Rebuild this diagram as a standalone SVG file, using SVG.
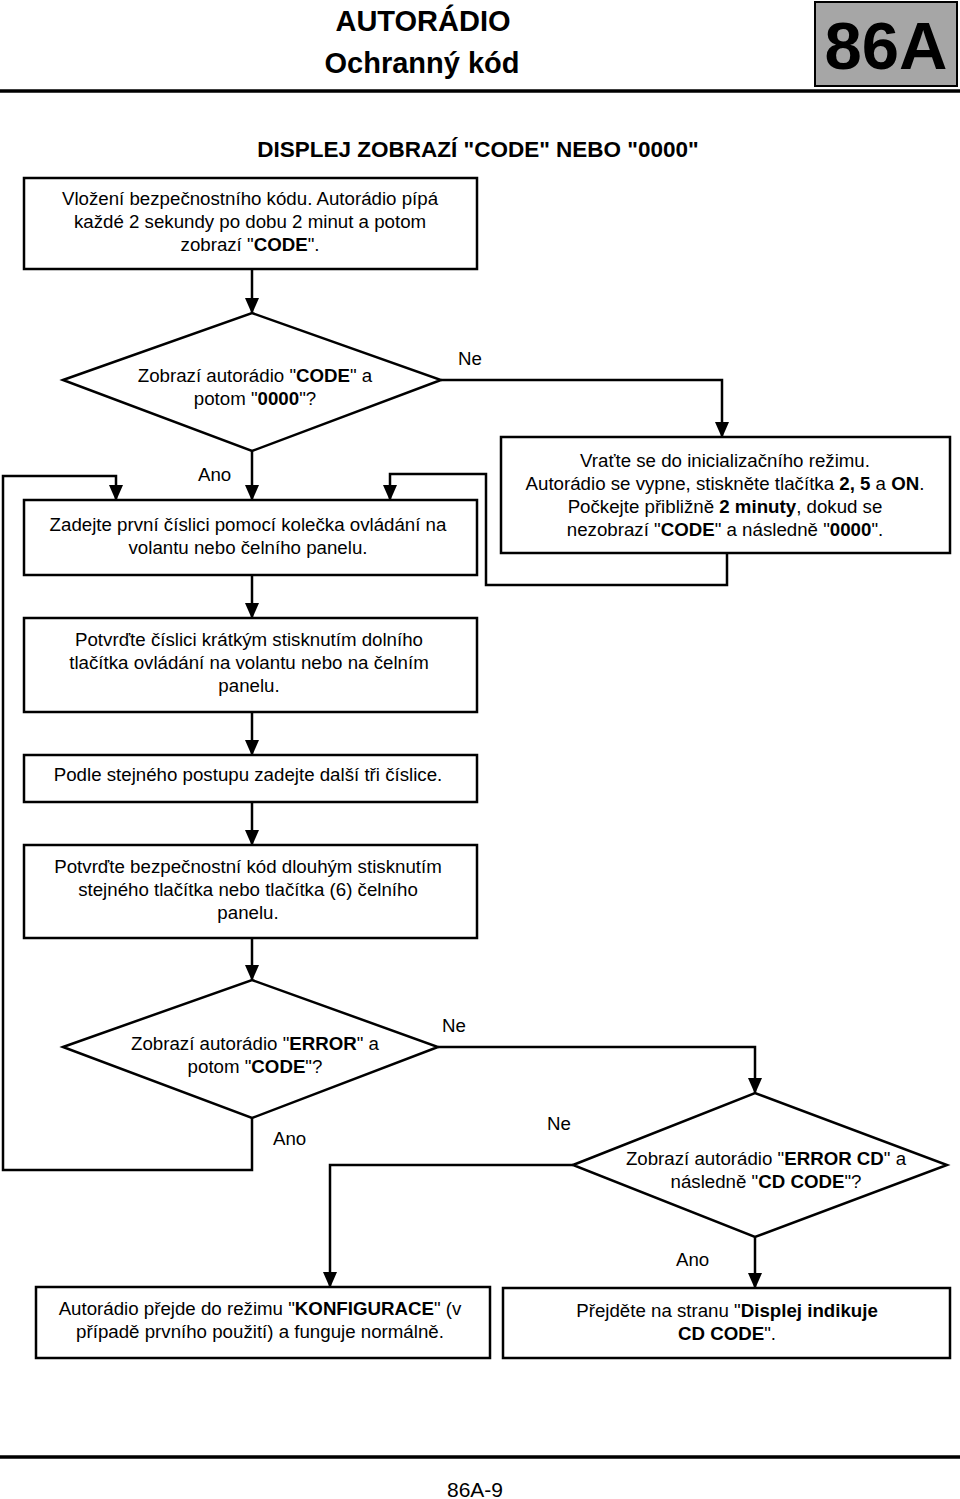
<svg xmlns="http://www.w3.org/2000/svg" width="960" height="1499" viewBox="0 0 960 1499">
<defs>
<marker id="ah" markerWidth="16" markerHeight="14" refX="15" refY="7" orient="auto" markerUnits="userSpaceOnUse" viewBox="0 0 16 14">
<path d="M0,0 L16,7 L0,14 Z" fill="#000"/>
</marker>
</defs>
<style>
.t{font-family:"Liberation Sans",Arial,sans-serif;font-size:18.7px;fill:#000;text-anchor:middle}
.l{font-family:"Liberation Sans",Arial,sans-serif;font-size:18.7px;fill:#000}
.b{font-weight:bold}
.box{fill:#fff;stroke:#000;stroke-width:2.5}
.ca{fill:none;stroke:#000;stroke-width:2.5}
</style>
<rect x="0" y="0" width="960" height="1499" fill="#fff"/>
<g id="header">
<text x="423" y="31" class="t b" style="font-size:29px">AUTORÁDIO</text>
<text x="422" y="73" class="t b" style="font-size:29px">Ochranný kód</text>
<rect x="815" y="2" width="142" height="84" fill="#a6a6a6" stroke="#000" stroke-width="2"/>
<text x="886" y="69" class="t b" style="font-size:67px">86A</text>
<line x1="0" y1="91" x2="960" y2="91" stroke="#000" stroke-width="3.5"/>
<text x="478" y="157" class="t b" style="font-size:22.5px">DISPLEJ ZOBRAZÍ "CODE" NEBO "0000"</text>
</g>
<g id="connectors">
<line class="ca" x1="252" y1="269" x2="252" y2="313" marker-end="url(#ah)"/>
<polyline class="ca" points="441,380 722,380 722,437" marker-end="url(#ah)"/>
<line class="ca" x1="252" y1="451" x2="252" y2="500" marker-end="url(#ah)"/>
<polyline class="ca" points="727,553 727,585 486,585 486,474 390,474 390,500" marker-end="url(#ah)"/>
<polyline class="ca" points="252,1118 252,1170 3,1170 3,476 116,476 116,500" marker-end="url(#ah)"/>
<line class="ca" x1="252" y1="575" x2="252" y2="618" marker-end="url(#ah)"/>
<line class="ca" x1="252" y1="712" x2="252" y2="755" marker-end="url(#ah)"/>
<line class="ca" x1="252" y1="802" x2="252" y2="845" marker-end="url(#ah)"/>
<line class="ca" x1="252" y1="938" x2="252" y2="980" marker-end="url(#ah)"/>
<polyline class="ca" points="438,1047 755,1047 755,1093" marker-end="url(#ah)"/>
<polyline class="ca" points="573,1165 330,1165 330,1287" marker-end="url(#ah)"/>
<line class="ca" x1="755" y1="1237" x2="755" y2="1288" marker-end="url(#ah)"/>
<text x="458" y="365" class="l">Ne</text>
<text x="198" y="481" class="l">Ano</text>
<text x="442" y="1032" class="l">Ne</text>
<text x="273" y="1145" class="l">Ano</text>
<text x="547" y="1130" class="l">Ne</text>
<text x="676" y="1266" class="l">Ano</text>
</g>
<g id="n1">
<rect class="box" x="24" y="178" width="453" height="91"/>
<text x="250" y="205" class="t">Vložení bezpečnostního kódu. Autorádio pípá</text>
<text x="250" y="228" class="t">každé 2 sekundy po dobu 2 minut a potom</text>
<text x="250" y="251" class="t">zobrazí "<tspan class="b">CODE</tspan>".</text>
</g>
<g id="d1">
<polygon class="box" points="63,380 252,313 441,380 252,451"/>
<text x="255" y="382" class="t">Zobrazí autorádio "<tspan class="b">CODE</tspan>" a</text>
<text x="255" y="405" class="t">potom "<tspan class="b">0000</tspan>"?</text>
</g>
<g id="n2">
<rect class="box" x="501" y="437" width="449" height="116"/>
<text x="725" y="467" class="t">Vraťte se do inicializačního režimu.</text>
<text x="725" y="490" class="t">Autorádio se vypne, stiskněte tlačítka <tspan class="b">2, 5</tspan> a <tspan class="b">ON</tspan>.</text>
<text x="725" y="513" class="t">Počkejte přibližně <tspan class="b">2 minuty</tspan>, dokud se</text>
<text x="725" y="536" class="t">nezobrazí "<tspan class="b">CODE</tspan>" a následně "<tspan class="b">0000</tspan>".</text>
</g>
<g id="n3">
<rect class="box" x="24" y="500" width="453" height="75"/>
<text x="248" y="531" class="t">Zadejte první číslici pomocí kolečka ovládání na</text>
<text x="248" y="554" class="t">volantu nebo čelního panelu.</text>
</g>
<g id="n4">
<rect class="box" x="24" y="618" width="453" height="94"/>
<text x="249" y="646" class="t">Potvrďte číslici krátkým stisknutím dolního</text>
<text x="249" y="669" class="t">tlačítka ovládání na volantu nebo na čelním</text>
<text x="249" y="692" class="t">panelu.</text>
</g>
<g id="n5">
<rect class="box" x="24" y="755" width="453" height="47"/>
<text x="248" y="781" class="t">Podle stejného postupu zadejte další tři číslice.</text>
</g>
<g id="n6">
<rect class="box" x="24" y="845" width="453" height="93"/>
<text x="248" y="873" class="t">Potvrďte bezpečnostní kód dlouhým stisknutím</text>
<text x="248" y="896" class="t">stejného tlačítka nebo tlačítka (6) čelního</text>
<text x="248" y="919" class="t">panelu.</text>
</g>
<g id="d2">
<polygon class="box" points="63,1047 252,980 438,1047 252,1118"/>
<text x="255" y="1050" class="t">Zobrazí autorádio "<tspan class="b">ERROR</tspan>" a</text>
<text x="255" y="1073" class="t">potom "<tspan class="b">CODE</tspan>"?</text>
</g>
<g id="d3">
<polygon class="box" points="573,1165 755,1093 947,1165 755,1237"/>
<text x="766" y="1165" class="t">Zobrazí autorádio "<tspan class="b">ERROR CD</tspan>" a</text>
<text x="766" y="1188" class="t">následně "<tspan class="b">CD CODE</tspan>"?</text>
</g>
<g id="n7">
<rect class="box" x="36" y="1287" width="454" height="71"/>
<text x="260" y="1315" class="t">Autorádio přejde do režimu "<tspan class="b">KONFIGURACE</tspan>" (v</text>
<text x="260" y="1338" class="t">případě prvního použití) a funguje normálně.</text>
</g>
<g id="n8">
<rect class="box" x="503" y="1288" width="447" height="70"/>
<text x="727" y="1317" class="t">Přejděte na stranu "<tspan class="b">Displej indikuje</tspan></text>
<text x="727" y="1340" class="t"><tspan class="b">CD CODE</tspan>".</text>
</g>
<g id="footer">
<line x1="0" y1="1457" x2="960" y2="1457" stroke="#000" stroke-width="3.5"/>
<text x="475" y="1497" class="t" style="font-size:21px">86A-9</text>
</g>
</svg>
